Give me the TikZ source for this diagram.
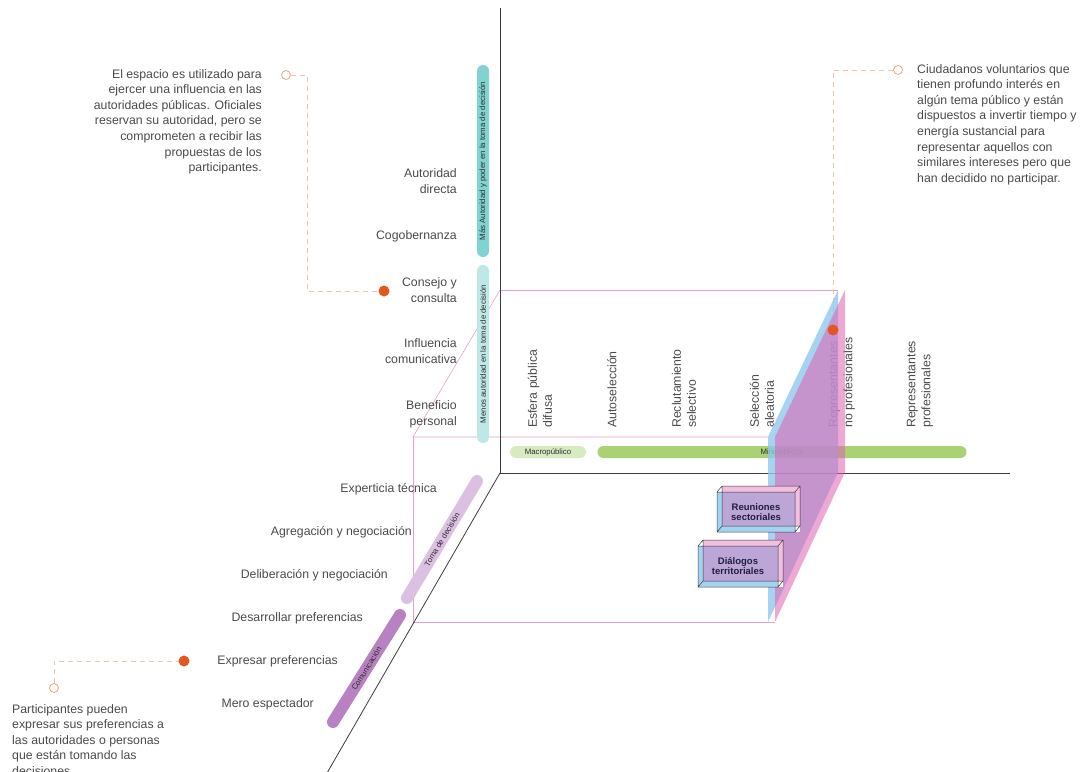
\documentclass[tikz,border=0pt]{standalone}
\usepackage{fontspec}
\setmainfont{Liberation Sans}
\usepackage{tikz}
\usetikzlibrary{positioning}
\definecolor{AxisGray}{HTML}{3C3C3C}
\definecolor{TextGray}{HTML}{4A4A4A}
\definecolor{BarText}{HTML}{2D2D2D}
\definecolor{FramePink}{HTML}{E6A0CC}
\definecolor{Teal}{HTML}{80D3D1}
\definecolor{LightTeal}{HTML}{BEE8E6}
\definecolor{Green}{HTML}{A9D275}
\definecolor{LightGreen}{HTML}{D7EBC0}
\definecolor{Purple}{HTML}{B882C2}
\definecolor{LightPurple}{HTML}{DCC0E2}
\definecolor{PlaneBlue}{HTML}{8EC8EE}
\definecolor{PlanePink}{HTML}{E060B0}
\definecolor{Orange}{HTML}{E2561F}
\definecolor{LightOrange}{HTML}{E9A77E}
\definecolor{LeadPink}{HTML}{F0C2AE}
\definecolor{Navy}{HTML}{1F1F3D}

\begin{document}
\begin{tikzpicture}[x=1pt, y=-1pt,
  axisline/.style={draw=AxisGray, line width=0.8pt},
  frameline/.style={draw=FramePink, line width=0.6pt},
  levellabel/.style={text=TextGray, font=\fontsize{12.3}{16}\selectfont, align=right, anchor=east, inner sep=0pt},
  collabel/.style={text=TextGray, font=\fontsize{12.3}{15}\selectfont, align=left, anchor=west, rotate=90, inner sep=0pt},
  notetext/.style={text=TextGray, font=\fontsize{12.3}{15.6}\selectfont, inner sep=0pt},
  pillbar/.style={rounded corners=6pt, minimum height=12pt, inner sep=0pt, text=BarText, font=\fontsize{7.8}{8}\selectfont},
  pillline/.style={line width=12pt, line cap=round},
  bartext/.style={text=BarText, font=\fontsize{7.8}{8}\selectfont, inner sep=0pt},
  notering/.style={circle, draw=LightOrange, line width=0.8pt, fill=white, minimum size=9pt, inner sep=0pt},
  pointdot/.style={circle, fill=Orange, minimum size=11pt, inner sep=0pt},
  lead/.style={draw=LeadPink, line width=0.7pt, dash pattern=on 5pt off 4pt},
  boxtext/.style={text=Navy, font=\bfseries\fontsize{9.5}{10.5}\selectfont, align=center, inner sep=0pt},
  boxedge/.style={draw=AxisGray, line width=0.5pt}]

  \useasboundingbox (0,0) rectangle (1083,771);

  \draw[frameline] (500,290) -- (838,290);
  \draw[frameline] (500,290) -- (413,437) -- (768,437);
  \draw[frameline] (413,437) -- (413,622) -- (775,622);

  \draw[axisline] (500,8) -- (500,473) -- (1010,473);
  \draw[axisline] (500,473) -- (323,780);

  \node[pillbar, fill=Teal, minimum width=192pt, rotate=90] (barMas) at (483,161) {Más Autoridad y poder en la toma de decisión};
  \node[pillbar, fill=LightTeal, minimum width=178pt, rotate=90] (barMenos) at (483,354) {Menos autoridad en la toma de decisión};
  \node[pillbar, fill=LightGreen, minimum width=76pt] (barMacro) at (548,452) {Macropúblico};
  \node[pillbar, fill=Green, minimum width=369pt] (barMini) at (782,452) {Minipúblicos};

  \coordinate (tomaLow) at (407,598);
  \coordinate (tomaHigh) at (477,481);
  \coordinate (comLow) at (333,722);
  \coordinate (comHigh) at (400,615);
  \draw[pillline, LightPurple] (tomaLow) -- (tomaHigh) node[midway, sloped, bartext] (barToma) {Toma de decisión};
  \draw[pillline, Purple] (comLow) -- (comHigh) node[midway, sloped, bartext] (barComunicacion) {Comunicación};

  \node[levellabel] (lvlAutoridad) at (457,181) {Autoridad\\directa};
  \node[levellabel] (lvlCogobernanza) at (457,236) {Cogobernanza};
  \node[levellabel] (lvlConsejo) at (457,290) {Consejo y\\consulta};
  \node[levellabel] (lvlInfluencia) at (457,351) {Influencia\\comunicativa};
  \node[levellabel] (lvlBeneficio) at (457,414) {Beneficio\\personal};

  \node[levellabel] (lvlExperticia) at (437,489) {Experticia técnica};
  \node[levellabel] (lvlAgregacion) at (412,532) {Agregación y negociación};
  \node[levellabel] (lvlDeliberacion) at (388,575) {Deliberación y negociación};
  \node[levellabel] (lvlDesarrollar) at (363,618) {Desarrollar preferencias};
  \node[levellabel] (lvlExpresar) at (338,661) {Expresar preferencias};
  \node[levellabel] (lvlMero) at (314,704) {Mero espectador};

  \node[collabel] (colEsfera) at (540,428) {Esfera pública\\difusa};
  \node[collabel] (colAuto) at (612,428) {Autoselección};
  \node[collabel] (colReclutamiento) at (684,428) {Reclutamiento\\selectivo};
  \node[collabel] (colSeleccion) at (762,428) {Selección\\aleatoria};
  \node[collabel] (colNoProf) at (842,428) {Representantes\\no profesionales};
  \node[collabel] (colProf) at (920,428) {Representantes\\profesionales};

  \node[notetext, align=right, anchor=north east] (noteEspacio) at (262,69) {El espacio es utilizado para\\ejercer una influencia en las\\autoridades públicas. Oficiales\\reservan su autoridad, pero se\\comprometen a recibir las\\propuestas de los\\participantes.};
  \node[notetext, align=left, anchor=north west] (noteCiudadanos) at (917,64) {Ciudadanos voluntarios que\\tienen profundo interés en\\algún tema público y están\\dispuestos a invertir tiempo y\\energía sustancial para\\representar aquellos con\\similares intereses pero que\\han decidido no participar.};
  \node[notetext, align=left, anchor=north west] (noteParticipantes) at (12,704) {Participantes pueden\\expresar sus preferencias a\\las autoridades o personas\\que están tomando las\\decisiones.};

  \node[notering] (ringEspacio) at (286,75) {};
  \node[notering] (ringCiudadanos) at (898,70) {};
  \node[notering] (ringParticipantes) at (54,688) {};
  \coordinate (bendEspacio) at (307,75);
  \draw[lead] (ringEspacio) -- (bendEspacio) |- (384,291);
  \draw[lead] (ringCiudadanos) -| (833,330);
  \draw[lead] (ringParticipantes) |- (184,661);

  \fill[PlaneBlue, opacity=.8] (768,437) -- (838,290) -- (838,472) -- (768,622) -- cycle;
  \fill[PlanePink, opacity=.55] (775,437) -- (845,290) -- (845,472) -- (775,622) -- cycle;

  \fill[white] (717,486) rectangle (800,532);
  \fill[PlaneBlue, opacity=.8] (717,492) rectangle (795,532);
  \fill[PlanePink, opacity=.4] (722,486) rectangle (800,526);
  \draw[boxedge] (717,492) rectangle (795,532) (722,486) rectangle (800,526)
    (717,492) -- (722,486) (795,492) -- (800,486) (717,532) -- (722,526) (795,532) -- (800,526);
  \node[boxtext] (boxReuniones) at (756,512) {Reuniones\\sectoriales};

  \fill[white] (698,540) rectangle (783,587);
  \fill[PlaneBlue, opacity=.8] (698,546) rectangle (778,587);
  \fill[PlanePink, opacity=.4] (703,540) rectangle (783,581);
  \draw[boxedge] (698,546) rectangle (778,587) (703,540) rectangle (783,581)
    (698,546) -- (703,540) (778,546) -- (783,540) (698,587) -- (703,581) (778,587) -- (783,581);
  \node[boxtext] (boxDialogos) at (738,566) {Diálogos\\territoriales};

  \node[pointdot] (dotConsejo) at (384,291) {};
  \node[pointdot] (dotRepresentantes) at (833,330) {};
  \node[pointdot] (dotExpresar) at (184,661) {};
\end{tikzpicture}
\end{document}
